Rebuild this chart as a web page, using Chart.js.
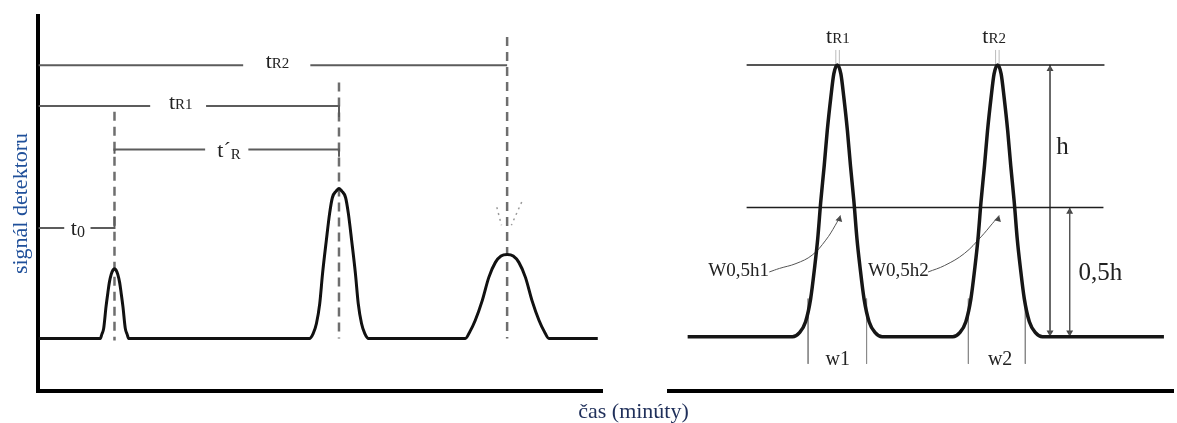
<!DOCTYPE html>
<html lang="sk">
<head>
<meta charset="utf-8">
<title>Chromatogram</title>
<script src="https://cdn.jsdelivr.net/npm/chart.js@4.4.1/dist/chart.umd.min.js"></script>
<style>
  html, body { margin: 0; padding: 0; background: #fff; }
  #wrap { position: relative; width: 1177px; height: 423px; overflow: hidden; }
  #wrap canvas { position: absolute; left: 0; top: 0; }
</style>
</head>
<body>
<div id="wrap">
  <canvas id="leftChart" width="1177" height="423"></canvas>
  <canvas id="rightChart" width="1177" height="423"></canvas>
</div>
<script>
// ---- Left panel: chromatogram (time in min, detector signal) ----
const leftTime = [0,
  1.32, 1.35, 1.39, 1.44, 1.48, 1.51, 1.55, 1.59, 1.62, 1.65, 1.69, 1.73, 1.76, 1.80, 1.85, 1.89, 1.92,
  5.77, 5.85, 5.92, 5.99, 6.05, 6.13, 6.20, 6.26, 6.34, 6.40, 6.46, 6.54, 6.60, 6.67, 6.75, 6.81, 6.88, 6.95, 7.03,
  9.09, 9.19, 9.30, 9.45, 9.59, 9.73, 9.85, 9.98, 10.11, 10.23, 10.37, 10.51, 10.66, 10.77, 10.87,
  11.91];
const leftSignal = [0,
  0, 1.1, 2.7, 8.5, 12.3, 14.9, 17.1, 18.3, 18.6, 18.3, 17.1, 14.9, 12.3, 8.5, 2.7, 1.1, 0,
  0, 1.3, 4.0, 9.3, 17.3, 26.1, 33.3, 37.6, 39.3, 40.0, 39.3, 37.6, 33.3, 26.1, 17.3, 9.3, 4.0, 1.3, 0,
  0, 1.9, 4.8, 10.1, 16.3, 20.3, 22.0, 22.4, 22.0, 20.3, 16.3, 10.1, 4.8, 1.9, 0,
  0];

// guide lines for tR2, tR1, t'R, t0 (null = break in the line)
const leftGuideTime = [0, 4.36, null, 5.79, 9.98, null,
  0, 2.38, null, 3.57, 6.40, 6.40, null,
  1.62, 1.62, 3.55, null, 4.47, 6.40, 6.40, null,
  0, 0.55, null, 1.11, 1.62, 1.62];
const leftGuideSignal = [72.9, 72.9, null, 72.9, 72.9, null,
  62.0, 62.0, null, 62.0, 62.0, 59.1, null,
  49.3, 50.4, 50.4, null, 50.4, 50.4, 48.5, null,
  29.5, 29.5, null, 29.5, 29.5, 32.6];

// dashed verticals at the retention times
const leftDashTime = [1.62, 1.62, null, 6.40, 6.40, null, 9.98, 9.98];
const leftDashSignal = [60.5, -0.5, null, 68.3, 0, null, 80.4, 0];

// dotted tangents above the third peak
const leftDotTime = [9.76, 9.86, null, 10.29, 10.07];
const leftDotSignal = [35.0, 30.2, null, 36.4, 30.2];

// ---- Right panel: two peaks, height h and widths ----
const rightTime = [0.37,
  2.45, 2.59, 2.71, 2.81, 2.89, 2.95, 3.01, 3.08, 3.14, 3.21, 3.27, 3.34,
  3.41, 3.47, 3.54, 3.60, 3.67, 3.73, 3.79, 3.87, 3.97, 4.09, 4.23,
  5.63, 5.77, 5.89, 5.99, 6.07, 6.13, 6.19, 6.26, 6.32, 6.39, 6.45, 6.52,
  6.59, 6.65, 6.72, 6.78, 6.85, 6.91, 6.97, 7.05, 7.15, 7.27, 7.41,
  9.82];
const rightSignal = [0,
  0, 1.5, 5.5, 13.9, 25.6, 35.9, 49.5, 63.0, 75.8, 87.9, 96.7, 100,
  96.7, 87.9, 75.8, 63.0, 49.5, 35.9, 25.6, 13.9, 5.5, 1.5, 0,
  0, 1.5, 5.5, 13.9, 25.6, 35.9, 49.5, 63.0, 75.8, 87.9, 96.7, 100,
  96.7, 87.9, 75.8, 63.0, 49.5, 35.9, 25.6, 13.9, 5.5, 1.5, 0,
  0];

// levels h and 0,5h
const rightLevelTime = [1.54, 8.64, null, 1.54, 8.62];
const rightLevelSignal = [100, 100, null, 47.5, 47.5];

// base width markers w1, w2
const rightWidthTime = [2.76, 2.76, null, 3.92, 3.92, null, 5.94, 5.94, null, 7.07, 7.07];
const rightWidthSignal = [14, -10, null, 14, -10, null, 14, -10, null, 14, -10];

// h and 0,5h dimension lines
const rightDimTime = [7.56, 7.56, null, 7.95, 7.95];
const rightDimSignal = [100, 0, null, 47.5, 0];

// curved pointers from W0,5h labels
const rightCurveTime = [1.99, 2.19, 2.52, 2.84, 3.11, 3.30, 3.40, null,
  5.14, 5.47, 5.86, 6.19, 6.42, 6.55];
const rightCurveSignal = [23.8, 25.1, 26.9, 30.0, 35.5, 41.0, 44.6, null,
  23.8, 26.2, 30.6, 36.7, 41.7, 44.6];

// arrow heads
const rightHeadTime = [7.56, 7.56, 7.95, 7.95, 3.38, 6.53];
const rightHeadSignal = [98.5, 1.5, 46.0, 1.5, 43.2, 43.2];

// small marks above the peak tops
const rightTickTime = [3.31, 3.31, null, 3.38, 3.38, null, 6.48, 6.48, null, 6.55, 6.55];
const rightTickSignal = [100, 105.5, null, 100, 105.5, null, 100, 105.5, null, 100, 105.5];

const serif = "'Liberation Serif', 'Times New Roman', serif";
Chart.defaults.font.family = serif;

const toPoints = (xs, ys) => xs.map((x, i) => ({ x: x, y: ys[i] }));

function lineSet(xs, ys, color, width, extra) {
    return Object.assign({
        data: toPoints(xs, ys),
        borderColor: color,
        borderWidth: width,
        pointRadius: 0,
        tension: 0,
        fill: false,
        spanGaps: false
    }, extra || {});
}

function axis(min, max, show) {
    return {
        type: 'linear', min: min, max: max, display: show,
        grid: { display: false, drawTicks: false },
        ticks: { display: false },
        border: { display: true, width: 4, color: '#000' }
    };
}

// draws text with an optional smaller subscript part (tR1, t0 ...)
function labelPlugin(items) {
    return {
        id: 'textLabels',
        afterDatasetsDraw(chart) {
            const ctx = chart.ctx;
            const sx = chart.scales.x, sy = chart.scales.y;
            ctx.save();
            ctx.textBaseline = 'alphabetic';
            ctx.textAlign = 'left';
            items.forEach(it => {
                const px = it.pixel ? it.x : sx.getPixelForValue(it.x);
                const py = it.pixel ? it.y : sy.getPixelForValue(it.y);
                const main = it.size + 'px ' + serif;
                const small = (it.subSize || 15) + 'px ' + serif;
                ctx.font = main;
                const w1 = ctx.measureText(it.text).width;
                let w2 = 0;
                if (it.sub) { ctx.font = small; w2 = ctx.measureText(it.sub).width; }
                const x0 = px - (w1 + w2) / 2;
                ctx.fillStyle = it.color || '#222';
                ctx.font = main;
                ctx.fillText(it.text, x0, py);
                if (it.sub) {
                    ctx.font = small;
                    ctx.fillText(it.sub, x0 + w1, py + (it.subDy || 0));
                }
            });
            ctx.restore();
        }
    };
}

const common = {
    responsive: false,
    animation: false,
    events: [],
    plugins: { legend: { display: false }, tooltip: { enabled: false } }
};

// Left chart
const leftY = axis(-14, 86, true);
leftY.title = {
    display: true, text: 'signál detektoru', color: '#20509a',
    font: { size: 22, family: serif }, padding: { top: 4, bottom: 4 }
};

new Chart(document.getElementById('leftChart'), {
    type: 'line',
    data: {
        datasets: [
            lineSet(leftTime, leftSignal, '#111', 3, { cubicInterpolationMode: 'monotone' }),
            lineSet(leftGuideTime, leftGuideSignal, '#5c5c5c', 2),
            lineSet(leftDashTime, leftDashSignal, '#6e6e6e', 2.5, { borderDash: [9, 6] }),
            lineSet(leftDotTime, leftDotSignal, '#9a9a9a', 1.5, { borderDash: [2, 4] })
        ]
    },
    options: Object.assign({}, common, {
        layout: { padding: { left: 4, top: 16, right: 575, bottom: 32 } },
        scales: { x: axis(0, 12, true), y: leftY }
    }),
    plugins: [labelPlugin([
        { text: 't', sub: 'R2', x: 5.09, y: 72.1, size: 22, subSize: 15 },
        { text: 't', sub: 'R1', x: 3.03, y: 61.2, size: 22, subSize: 15 },
        { text: 't\u00B4', sub: 'R', x: 4.06, y: 48.4, size: 22, subSize: 15, subDy: 2 },
        { text: 't', sub: '0', x: 0.84, y: 27.6, size: 22, subSize: 16, subDy: 2 },
        { text: 'čas (minúty)', x: 633.5, y: 418, pixel: true, size: 22, color: '#1f2f5a' }
    ])]
});

// Right chart
new Chart(document.getElementById('rightChart'), {
    type: 'line',
    data: {
        datasets: [
            lineSet(rightTime, rightSignal, '#161616', 3.5, { cubicInterpolationMode: 'monotone' }),
            lineSet(rightLevelTime, rightLevelSignal, '#1e1e1e', 1.5),
            lineSet(rightWidthTime, rightWidthSignal, '#8a8a8a', 1),
            lineSet(rightDimTime, rightDimSignal, '#555', 1),
            lineSet(rightCurveTime, rightCurveSignal, '#555', 1, { tension: 0.4 }),
            lineSet(rightTickTime, rightTickSignal, '#bbbbbb', 1),
            lineSet(rightHeadTime, rightHeadSignal, '#444', 0, {
                showLine: false, pointRadius: 4, pointStyle: 'triangle',
                pointBackgroundColor: '#444', pointBorderWidth: 0,
                pointRotation: [0, 180, 0, 180, 15, 15]
            })
        ]
    },
    options: Object.assign({}, common, {
        layout: { padding: { left: 669, top: 16, right: 0, bottom: 32 } },
        scales: { x: axis(0, 10, true), y: axis(-20, 118, false) }
    }),
    plugins: [labelPlugin([
        { text: 't', sub: 'R1', x: 3.35, y: 108, size: 22, subSize: 15 },
        { text: 't', sub: 'R2', x: 6.45, y: 108, size: 22, subSize: 15 },
        { text: 'h', x: 7.81, y: 67.2, size: 25 },
        { text: '0,5h', x: 8.56, y: 20.7, size: 25 },
        { text: 'w1', x: 3.35, y: -10.5, size: 20 },
        { text: 'w2', x: 6.57, y: -10.5, size: 20 },
        { text: 'W0,5h1', x: 1.38, y: 22.2, size: 19 },
        { text: 'W0,5h2', x: 4.55, y: 22.2, size: 19 }
    ])]
});
</script>
</body>
</html>
